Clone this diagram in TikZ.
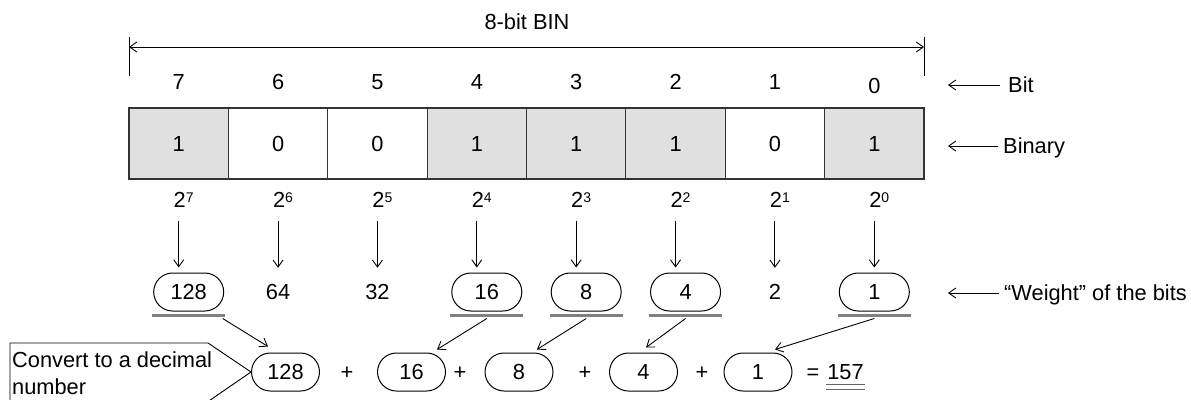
\documentclass[tikz,border=0pt]{standalone}
\usepackage{fontspec}
\setmainfont{Liberation Sans}
\usetikzlibrary{arrows.meta,shapes.misc,calc}
\begin{document}
\begin{tikzpicture}[x=1pt,y=-1pt,
  every node/.style={font=\fontsize{21.8}{24}\selectfont, inner sep=0pt, text height=15.6pt, text depth=0pt},
  bitbox/.style={draw=black!80, line width=1.1pt, minimum width=99.375pt, minimum height=71pt},
  box1/.style={bitbox, fill=black!12},
  box0/.style={bitbox, fill=white},
  wplain/.style={minimum width=70pt, minimum height=38pt},
  wpill/.style={wplain, draw, line width=1pt, rounded rectangle},
  sumpill/.style={wpill, minimum width=68pt},
  tip/.style={-{Straight Barb[length=7pt,width=10pt]}, line width=0.9pt},
  uline/.style={draw=black!50, line width=2.6pt},
  dline/.style={draw=black!60, line width=1.3pt}]
\useasboundingbox (0,0) rectangle (1191,399);
\clip (0,0) rectangle (1191,399);

% title and dimension line
\node (title) at (527,22) {8-bit BIN};
\coordinate (dl) at (129,47);
\coordinate (dr) at (924,47);
\draw[line width=0.9pt] (129,37) -- (129,76);
\draw[line width=0.9pt] (924,37) -- (924,76);
\draw[{Straight Barb[length=7pt,width=10pt]}-{Straight Barb[length=7pt,width=10pt]}, line width=0.9pt] (dl) -- (dr);

% columns
\foreach \b/\v/\ny/\wv/\ws/\wx in {7/1/82/128/wpill/10, 6/0/82/64/wplain/0, 5/0/82/32/wplain/0, 4/1/82/16/wpill/10, 3/1/82/8/wpill/10, 2/1/82/4/wpill/10, 1/0/82/2/wplain/0, 0/1/86/1/wpill/0} {
  \pgfmathsetmacro\cx{129+99.375*(7-\b+0.5)}
  \node[box\v] (b\b) at (\cx,143.5) {\v};
  \node (n\b) at (\cx,\ny) {\b};
  \node (p\b) at (\cx+5,200) {2\raisebox{5.4pt}{\fontsize{14}{14}\selectfont\b}};
  \node[\ws] (w\b) at (\cx+\wx,292) {\wv};
  \draw[tip, shorten <=13pt, shorten >=5pt] (p\b.south -| b\b) -- (w\b.north -| b\b);
}

% underlines under the selected weights
\foreach \b in {7,4,3,2,0} {
  \draw[uline] ([yshift=-4pt,xshift=-1pt]w\b.west |- w\b.south) -- ([yshift=-4pt,xshift=1pt]w\b.east |- w\b.south);
}

% right-hand labels
\node[anchor=west] (lbit) at (1008,85) {Bit};
\node[anchor=west] (lbin) at (1003,146) {Binary};
\node[anchor=west] (lwt) at (1004,293) {“Weight” of the bits};
\coordinate (ebit) at (948,85);
\coordinate (ebin) at (948,146);
\coordinate (ewt) at (948,293);
\draw[tip, shorten <=8pt] (lbit.west) -- (ebit);
\draw[tip, shorten <=5pt] (lbin.west) -- (ebin);
\draw[tip, shorten <=5pt] (lwt.west) -- (ewt);

% sum row
\node[sumpill] (s128) at (285.5,372) {128};
\node (pl1) at (347,372) {+};
\node[sumpill] (s16) at (411.5,372) {16};
\node (pl2) at (460,372) {+};
\node[sumpill] (s8) at (519,372) {8};
\node (pl3) at (585,372) {+};
\node[sumpill] (s4) at (643.5,372) {4};
\node (pl4) at (702,372) {+};
\node[sumpill] (s1) at (758,372) {1};
\node (eq) at (813,372) {=};
\node (res) at (845.5,372) {157};
\draw[dline] ([xshift=-1pt,yshift=-4.2pt]res.south west) -- ([xshift=1pt,yshift=-4.2pt]res.south east);
\draw[dline] ([xshift=-1pt,yshift=-9.2pt]res.south west) -- ([xshift=1pt,yshift=-9.2pt]res.south east);

% diagonal connectors
\draw[tip] ([xshift=34pt,yshift=-7pt]w7.south) -- ([xshift=-17.5pt,yshift=6pt]s128.north);
\draw[tip] ([yshift=-7pt]w4.south) -- ([xshift=25.5pt,yshift=3pt]s16.north);
\draw[tip] ([yshift=-7pt]w3.south) -- ([xshift=18pt,yshift=3pt]s8.north);
\draw[tip] ([yshift=-7pt]w2.south) -- ([xshift=2.5pt,yshift=5pt]s4.north);
\draw[tip] ([yshift=-7pt]w0.south) -- ([xshift=17pt,yshift=3pt]s1.north);

% callout
\draw[line width=0.9pt] (10,410) -- (10,343) -- (208,343) -- (s128.west) -- (203,405);
\node[anchor=base west] (c1) at (12,367.5) {Convert to a decimal};
\node[anchor=base west] (c2) at (12,394.5) {number};
\end{tikzpicture}
\end{document}
